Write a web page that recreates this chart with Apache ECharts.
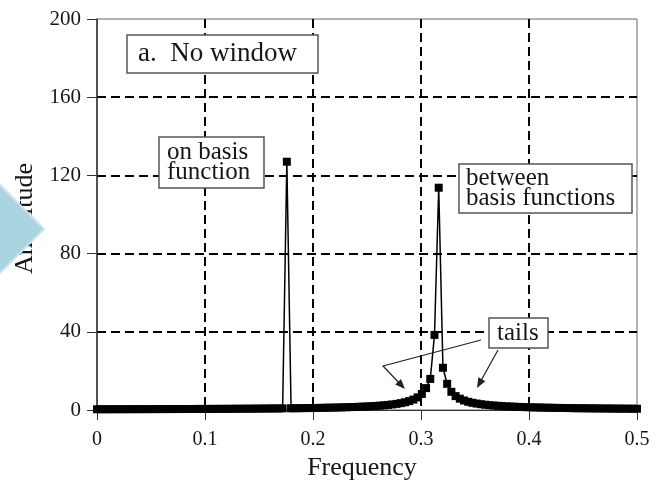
<!DOCTYPE html>
<html>
<head>
<meta charset="utf-8">
<script src="https://cdn.jsdelivr.net/npm/echarts@6/dist/echarts.min.js"></script>
<style>
html,body{margin:0;padding:0;background:#fff;}
#chart{width:656px;height:482px;}
</style>
</head>
<body>
<div id="chart"></div>
<script>
// DFT size (bins k/256, k = 0..128)
const dftSize = 256;
// Amplitude per bin
const amplitudes = [
  0.38,0.38,0.39,0.39,0.40,0.40,0.41,0.41,0.42,0.43,
  0.43,0.44,0.44,0.45,0.46,0.46,0.47,0.48,0.49,0.49,
  0.50,0.51,0.52,0.53,0.54,0.55,0.56,0.57,0.58,0.59,
  0.60,0.61,0.63,0.64,0.65,0.67,0.68,0.70,0.71,0.73,
  0.75,0.77,0.79,0.81,0.83,127,0.88,0.90,0.93,0.96,
  0.99,1.03,1.06,1.10,1.14,1.19,1.23,1.29,1.34,1.40,
  1.47,1.55,1.63,1.72,1.82,1.94,2.07,2.22,2.40,2.60,
  2.85,3.14,3.50,3.95,4.54,5.33,6.46,8.2,11.2,15.9,
  38.4,113.7,21.6,13.4,9.3,7.1,5.8,4.86,4.19,3.68,
  3.29,2.97,2.70,2.48,2.30,2.14,2.00,1.87,1.77,1.67,
  1.58,1.50,1.43,1.37,1.31,1.26,1.21,1.16,1.12,1.08,
  1.04,1.01,0.98,0.94,0.92,0.89,0.86,0.84,0.82,0.80,
  0.78,0.76,0.74,0.72,0.70,0.69,0.67,0.66,0.65
];
const xTicks = [0, 0.1, 0.2, 0.3, 0.4, 0.5];
const yTicks = [0, 40, 80, 120, 160, 200];
const xTitle = 'Frequency';
const yTitle = 'Amplitude';
const panelLabel = 'a.  No window';
const noteOnBasis = 'on basis\nfunction';
const noteBetween = 'between\nbasis functions';
const noteTails = 'tails';

const points = amplitudes.map((a, k) => [k / dftSize, a]);
const serif = '"Liberation Serif", "Times New Roman", serif';
const txt = '#161616';

const chart = echarts.init(document.getElementById('chart'), null, {renderer: 'canvas'});

function arrowHead(x0, y0, x1, y1, len, half) {
  const dx = x1 - x0, dy = y1 - y0, L = Math.hypot(dx, dy);
  const ux = dx / L, uy = dy / L;
  const bx = x1 - ux * len, by = y1 - uy * len;
  return [[x1, y1], [bx - uy * half, by + ux * half], [bx + uy * half, by - ux * half]];
}

function box(x, y, w, h, text, tx, size, lh) {
  return [
    {type: 'rect', z: 50, shape: {x: x, y: y, width: w, height: h},
     style: {fill: '#fff', stroke: '#555', lineWidth: 1.5}},
    {type: 'text', z: 51, x: tx, y: y + h / 2,
     style: {text: text, font: size + 'px ' + serif, fill: txt,
             verticalAlign: 'middle', align: 'left', lineHeight: lh}}
  ];
}

const graphics = [].concat(
  box(127, 35, 191, 38, panelLabel, 138, 27, 27),
  box(159, 137, 105, 51, noteOnBasis, 167, 25, 20),
  box(459, 164, 173, 49, noteBetween, 466, 25, 20),
  box(489, 318, 59, 30, noteTails, 497, 25, 25),
  [
    {type: 'polyline', z: 52, shape: {points: [[481, 340], [383, 366], [403, 387]]},
     style: {stroke: '#222', lineWidth: 1.2, fill: null}},
    {type: 'polygon', z: 52, shape: {points: arrowHead(383, 366, 405, 389, 10, 4)},
     style: {fill: '#222'}},
    {type: 'line', z: 52, shape: {x1: 498, y1: 350, x2: 478, y2: 386},
     style: {stroke: '#222', lineWidth: 1.2}},
    {type: 'polygon', z: 52, shape: {points: arrowHead(498, 350, 477, 388, 10, 4)},
     style: {fill: '#222'}},
    {type: 'polygon', z: 100, shape: {points: [[-10, 175], [44, 229], [-10, 283]]},
     style: {fill: '#a9d4e0', stroke: '#c6e4ec', lineWidth: 2}}
  ]
);

chart.setOption({
  animation: false,
  backgroundColor: '#fff',
  grid: {left: 97, right: 19, top: 19, bottom: 72, show: true,
         outerBoundsMode: 'none', containLabel: false,
         borderColor: '#666', borderWidth: 1, backgroundColor: 'transparent'},
  xAxis: {
    type: 'value', min: xTicks[0], max: xTicks[xTicks.length - 1], interval: 0.1,
    name: xTitle, nameLocation: 'middle', nameGap: 31,
    nameTextStyle: {fontFamily: serif, fontSize: 26, color: txt, padding: [0, 10, 0, 0]},
    axisLine: {show: true, onZero: false, lineStyle: {color: '#333', width: 1}},
    axisTick: {show: true, inside: false, length: 10, lineStyle: {color: '#333', width: 1}},
    axisLabel: {fontFamily: serif, fontSize: 20, color: txt, margin: 20,
                formatter: v => String(+v.toFixed(1))},
    splitLine: {show: true, showMinLine: false, showMaxLine: false,
                lineStyle: {color: '#000', width: 2, type: [9, 5]}}
  },
  yAxis: {
    type: 'value', min: yTicks[0], max: yTicks[yTicks.length - 1], interval: 40,
    name: yTitle, nameLocation: 'middle', nameGap: 57, nameRotate: 90,
    nameTextStyle: {fontFamily: serif, fontSize: 26, color: txt, padding: [0, 8, 0, 0]},
    axisLine: {show: true, lineStyle: {color: '#333', width: 1.5}},
    axisTick: {show: true, inside: false, length: 10, lineStyle: {color: '#333', width: 1}},
    axisLabel: {fontFamily: serif, fontSize: 21, color: txt, margin: 16},
    splitLine: {show: true, showMinLine: false, showMaxLine: false,
                lineStyle: {color: '#000', width: 2, type: [9, 5]}}
  },
  series: [{
    type: 'line', data: points, z: 10,
    symbol: 'rect', symbolSize: 8, showAllSymbol: true,
    lineStyle: {color: '#000', width: 1.5},
    itemStyle: {color: '#000'},
    clip: false
  }],
  graphic: graphics
});
</script>
</body>
</html>
